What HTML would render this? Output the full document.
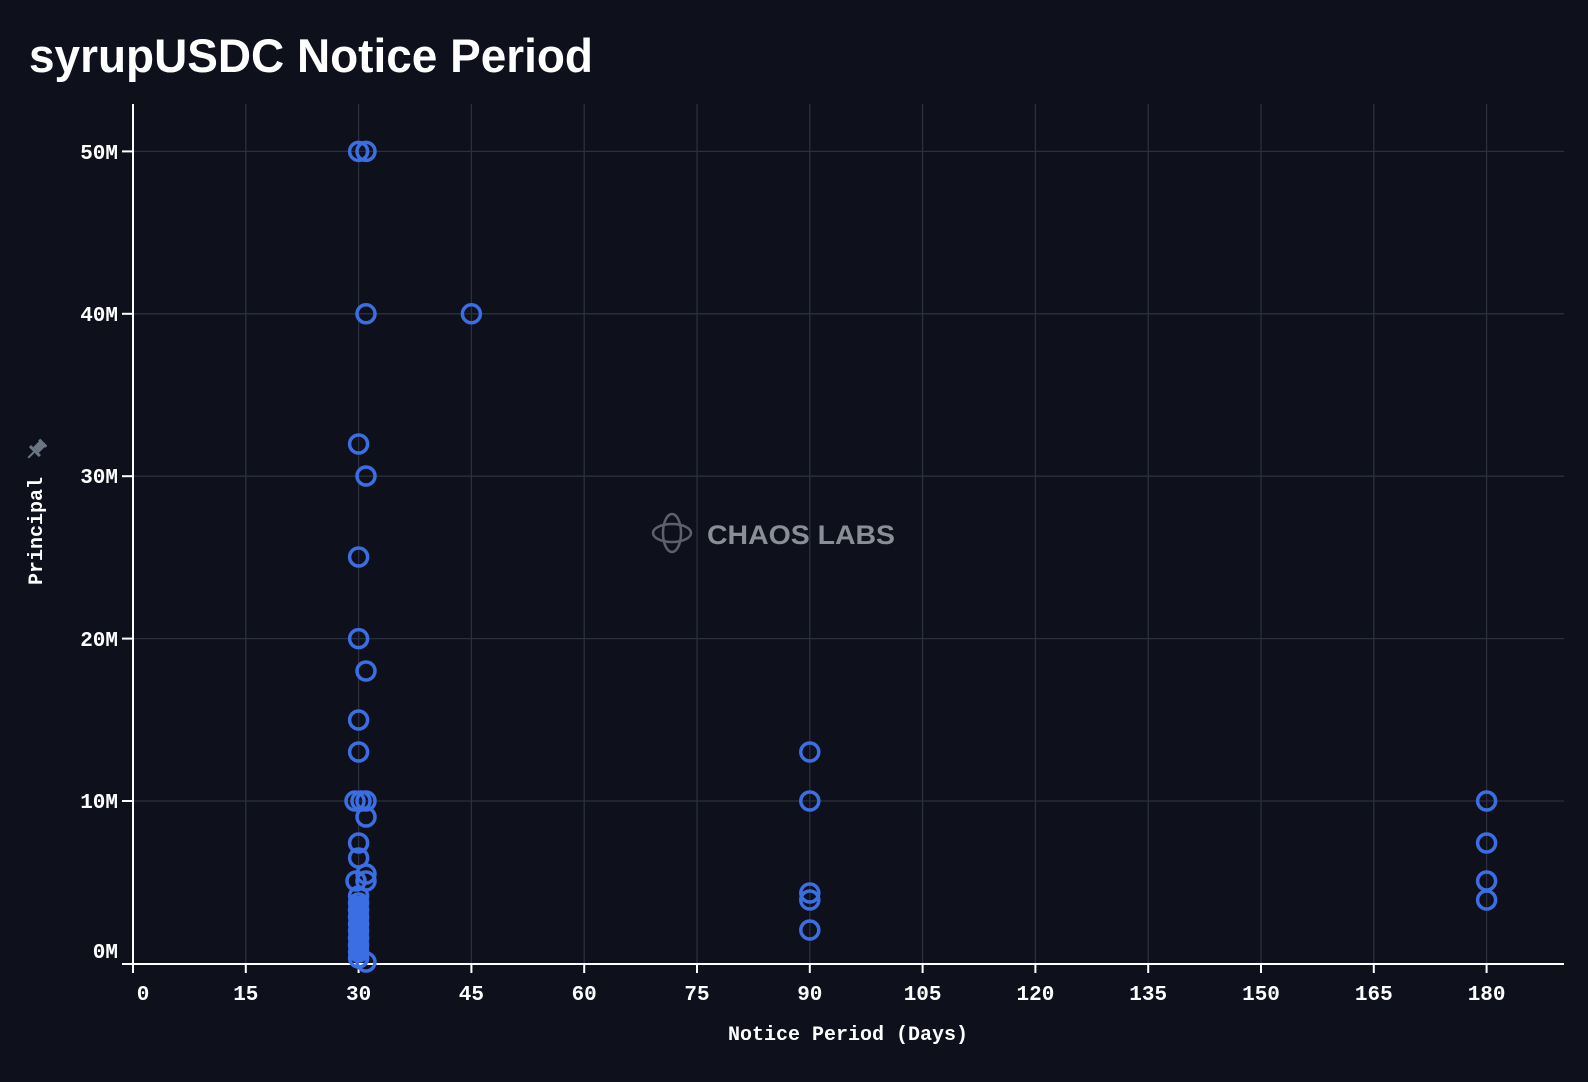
<!DOCTYPE html>
<html><head><meta charset="utf-8"><style>
html,body{margin:0;padding:0;background:#0e111c;}
svg{display:block;}
text{font-family:"Liberation Mono","DejaVu Sans Mono",monospace;fill:#ffffff;}
</style></head><body>
<svg width="1588" height="1082" viewBox="0 0 1588 1082" xmlns="http://www.w3.org/2000/svg">
<rect width="1588" height="1082" fill="#0e111c"/>
<text x="29" y="72" style="font-family:'Liberation Sans',sans-serif;font-weight:bold;font-size:47px" textLength="564" lengthAdjust="spacingAndGlyphs">syrupUSDC Notice Period</text>
<g stroke="#2b303c" stroke-width="1.3">
<line x1="245.8" y1="104" x2="245.8" y2="963"/><line x1="358.6" y1="104" x2="358.6" y2="963"/>
<line x1="471.4" y1="104" x2="471.4" y2="963"/><line x1="584.2" y1="104" x2="584.2" y2="963"/>
<line x1="697" y1="104" x2="697" y2="963"/><line x1="809.8" y1="104" x2="809.8" y2="963"/>
<line x1="922.6" y1="104" x2="922.6" y2="963"/><line x1="1035.4" y1="104" x2="1035.4" y2="963"/>
<line x1="1148.2" y1="104" x2="1148.2" y2="963"/><line x1="1261" y1="104" x2="1261" y2="963"/>
<line x1="1373.8" y1="104" x2="1373.8" y2="963"/><line x1="1486.6" y1="104" x2="1486.6" y2="963"/>
<line x1="133" y1="801" x2="1564" y2="801"/><line x1="133" y1="638.6" x2="1564" y2="638.6"/>
<line x1="133" y1="476.2" x2="1564" y2="476.2"/><line x1="133" y1="313.8" x2="1564" y2="313.8"/>
<line x1="133" y1="151.4" x2="1564" y2="151.4"/>
</g>
<g stroke="#ffffff" stroke-width="2">
<line x1="133" y1="104" x2="133" y2="964"/>
<line x1="122" y1="964" x2="1564" y2="964"/>
<line x1="122" y1="801" x2="133" y2="801"/><line x1="122" y1="638.6" x2="133" y2="638.6"/>
<line x1="122" y1="476.2" x2="133" y2="476.2"/><line x1="122" y1="313.8" x2="133" y2="313.8"/>
<line x1="122" y1="151.4" x2="133" y2="151.4"/>
<line x1="133" y1="964" x2="133" y2="973"/><line x1="245.8" y1="964" x2="245.8" y2="973"/>
<line x1="358.6" y1="964" x2="358.6" y2="973"/><line x1="471.4" y1="964" x2="471.4" y2="973"/>
<line x1="584.2" y1="964" x2="584.2" y2="973"/><line x1="697" y1="964" x2="697" y2="973"/>
<line x1="809.8" y1="964" x2="809.8" y2="973"/><line x1="922.6" y1="964" x2="922.6" y2="973"/>
<line x1="1035.4" y1="964" x2="1035.4" y2="973"/><line x1="1148.2" y1="964" x2="1148.2" y2="973"/>
<line x1="1261" y1="964" x2="1261" y2="973"/><line x1="1373.8" y1="964" x2="1373.8" y2="973"/>
<line x1="1486.6" y1="964" x2="1486.6" y2="973"/>
</g>
<g font-size="21" font-weight="bold" text-anchor="end">
<text x="118" y="958">0M</text><text x="118" y="808">10M</text><text x="118" y="646">20M</text>
<text x="118" y="483">30M</text><text x="118" y="321">40M</text><text x="118" y="159">50M</text>
</g>
<g font-size="21" font-weight="bold" text-anchor="middle">
<text x="143" y="1000">0</text><text x="245.8" y="1000">15</text><text x="358.6" y="1000">30</text>
<text x="471.4" y="1000">45</text><text x="584.2" y="1000">60</text><text x="697" y="1000">75</text>
<text x="809.8" y="1000">90</text><text x="922.6" y="1000">105</text><text x="1035.4" y="1000">120</text>
<text x="1148.2" y="1000">135</text><text x="1261" y="1000">150</text><text x="1373.8" y="1000">165</text>
<text x="1486.6" y="1000">180</text>
<text x="848" y="1040" font-size="20">Notice Period (Days)</text>
</g>
<text transform="translate(42,531) rotate(-90)" font-size="20" font-weight="bold" text-anchor="middle">Principal</text>
<g transform="translate(36,450) rotate(45)" fill="#6b7684">
<rect x="-5" y="-11" width="10" height="3"/><rect x="-4" y="-9" width="8" height="9"/><rect x="-7" y="0" width="14" height="3"/><rect x="-1" y="3" width="2" height="8"/>
</g>
<g opacity="0.55" stroke="#a0a4ad" fill="none" stroke-width="2.5">
<ellipse cx="672" cy="533" rx="9" ry="19"/><ellipse cx="672" cy="533" rx="19" ry="9"/>
</g>
<text x="707" y="544" style="font-family:'Liberation Sans',sans-serif;font-weight:bold;font-size:27px;fill:#8a8e96" textLength="188" lengthAdjust="spacingAndGlyphs">CHAOS LABS</text>
<g fill="none" stroke="#3b6ee3" stroke-width="3.5">
<circle cx="358.6" cy="151.4" r="9"/><circle cx="366" cy="151.4" r="9"/>
<circle cx="366" cy="313.8" r="9"/><circle cx="471.4" cy="313.8" r="9"/>
<circle cx="358.6" cy="444" r="9"/><circle cx="366" cy="476" r="9"/>
<circle cx="358.6" cy="557" r="9"/><circle cx="358.6" cy="638.6" r="9"/><circle cx="366" cy="671" r="9"/>
<circle cx="358.6" cy="720" r="9"/><circle cx="358.6" cy="752" r="9"/>
<circle cx="355" cy="801" r="9"/><circle cx="361" cy="801" r="9"/><circle cx="366" cy="801" r="9"/><circle cx="366" cy="817" r="9"/>
<circle cx="358.6" cy="843" r="9"/><circle cx="358.6" cy="858" r="9"/>
<circle cx="366" cy="874" r="9"/><circle cx="356" cy="881" r="9"/><circle cx="366" cy="881" r="9"/>
<circle cx="358.6" cy="896" r="9"/><circle cx="358.6" cy="903" r="9"/><circle cx="358.6" cy="910" r="9"/>
<circle cx="358.6" cy="917" r="9"/><circle cx="358.6" cy="924" r="9"/><circle cx="358.6" cy="931" r="9"/>
<circle cx="358.6" cy="938" r="9"/><circle cx="358.6" cy="945" r="9"/><circle cx="358.6" cy="952" r="9"/>
<circle cx="358.6" cy="958" r="9"/><circle cx="366" cy="962" r="9"/>
<circle cx="809.8" cy="752" r="9"/><circle cx="809.8" cy="801" r="9"/>
<circle cx="809.8" cy="893" r="9"/><circle cx="809.8" cy="900" r="9"/><circle cx="809.8" cy="930" r="9"/>
<circle cx="1486.6" cy="801" r="9"/><circle cx="1486.6" cy="843" r="9"/>
<circle cx="1486.6" cy="881" r="9"/><circle cx="1486.6" cy="900" r="9"/>
</g>
<g fill="#3b6ee3"><rect x="349" y="896" width="19" height="64"/></g>
</svg>
</body></html>
